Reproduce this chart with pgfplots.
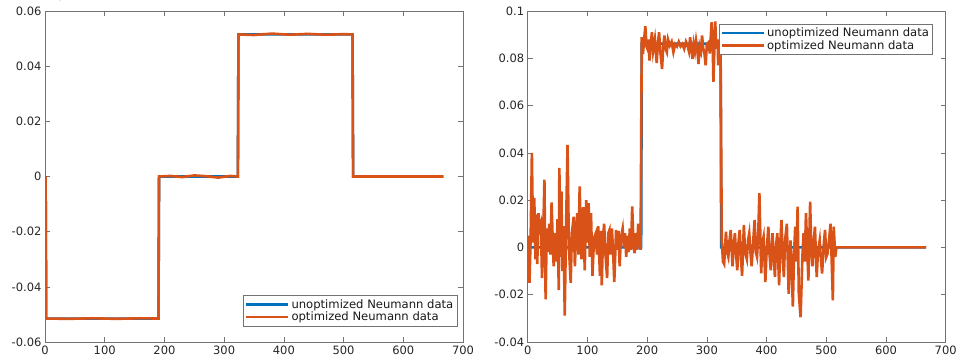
\documentclass[border=0pt]{standalone}
\usepackage{fontspec}
\setmainfont{DejaVu Sans}
\usepackage{pgfplots}
\pgfplotsset{compat=1.18}
\definecolor{mblue}{rgb}{0,0.447,0.741}
\definecolor{morange}{rgb}{0.85,0.325,0.098}

\pgfplotsset{mstyle/.style={
  scale only axis, width=418pt, height=331pt,
  xmin=0, xmax=700, xtick={0,100,...,700},
  xticklabels={0,100,200,300,400,500,600,700},
  tick align=inside, major tick length=5pt,
  axis line style={draw=black!55, line width=0.6pt},
  every tick/.style={black!55, line width=0.6pt},
  tick label style={font=\fontsize{11.5}{13}\selectfont, text=black!85},
  /pgf/number format/assume math mode=true,
  legend style={font=\fontsize{11.6}{12.5}\selectfont, draw=black!55, line width=0.6pt,
    cells={anchor=west}, inner sep=1.5pt, row sep=-1.5pt, text=black!90},
  legend image code/.code={\draw[#1, line width=2.4pt] (-2pt,0pt) -- (40pt,0pt);},
}}

\begin{document}
\begin{tikzpicture}
\useasboundingbox (0,0) rectangle (956pt,360pt);
% ---------------- left panel ----------------
\begin{axis}[mstyle, at={(45pt,18pt)}, anchor=south west,
  ymin=-0.06, ymax=0.06, ytick={-0.06,-0.04,-0.02,0,0.02,0.04,0.06},
  yticklabels={-0.06,-0.04,-0.02,0,0.02,0.04,0.06},
  legend style={at={(0.986,0.048)}, anchor=south east}]
\addplot[mblue, line width=2.6pt] coordinates {
(1,0) (2,-0.0515) (190,-0.0515) (191,0) (323,0) (324,0.0515) (515,0.0515) (516,0) (667,0)};
\addplot[morange, line width=2.6pt] coordinates {
(1,0) (2,-0.0515) (40,-0.0516) (80,-0.0514) (120,-0.0516) (160,-0.0514) (190,-0.0515)
(191,0) (210,0.0002) (230,-0.0002) (250,0.0004) (270,0.0001) (290,-0.0004) (310,0.0002) (323,0)
(324,0.0515) (350,0.0513) (380,0.0518) (410,0.0514) (440,0.0517) (470,0.0514) (500,0.0516) (515,0.0515)
(516,0) (667,0)};
\legend{unoptimized Neumann data, optimized Neumann data}
\end{axis}
% ---------------- right panel ----------------
\begin{axis}[mstyle, at={(527.7pt,18pt)}, anchor=south west,
  ymin=-0.04, ymax=0.1, ytick={-0.04,-0.02,0,0.02,0.04,0.06,0.08,0.1},
  yticklabels={-0.04,-0.02,0,0.02,0.04,0.06,0.08,0.1},
  legend style={at={(0.969,0.961)}, anchor=north east}]
\addplot[mblue, line width=2.6pt] coordinates {
(1,0) (190,0) (191,0.0862) (323,0.0862) (324,0) (667,0)};
\addplot[morange, line width=2.6pt] table {
x y
0 0.005
3 -0.015
5 0.005
7 0.040
9 0.002
11 0.021
13 -0.005
15 0.014
16 -0.007
18 0.0145
20 0.008
22 0.010
24 -0.013
26 0.005
28 0.0287
30 -0.022
32 0.008
34 -0.002
36 0.010
38 -0.003
40 0.019
42 0.002
43.5 -0.008
46 0.006
48 -0.006
50 0.012
52 -0.018
53 0.0336
55 -0.004
56.5 0.0237
58 -0.010
60 0.009
62 -0.0288
64 0.005
66.7 0.0434
69 0.000
72 -0.015
74 0.006
77 0.013
79 -0.008
81 0.006
83 0.0145
85 -0.003
87 0.0258
90 -0.005
93 0.017
95.5 -0.0097
98 0.020
100 0.002
102 0.0187
104 -0.004
106 0.0145
108.5 -0.012
111 0.004
114 0.006
116 -0.003
118 0.009
121 -0.012
122.5 0.007
124 -0.016
126 0.004
128 0.010
130 -0.002
133 -0.013
135 0.006
137 0.0074
139 -0.003
141 0.008
143 -0.002
145 -0.0146
148 0.0074
150 -0.001
152 0.007
154 -0.008
156 0.004
159 0.008
161 0.000
163 0.006
165 -0.004
167 0.005
169 -0.002
171 0.008
173 -0.001
175 0.0173
177 0.002
179 -0.0025
181 0.006
183 -0.001
185 0.010
187 0.002
189 -0.001
191 0.0889
193 0.0818
195 0.088
197 0.0936
199 0.085
200.5 0.084
202 0.088
204 0.079
206 0.086
208 0.091
210 0.083
213 0.088
216 0.078
218 0.086
220 0.091
222 0.083
225 0.0755
227 0.085
229 0.0896
231 0.084
233 0.0826
235 0.088
238 0.0854
241 0.087
244 0.0826
247 0.086
250 0.085
253 0.087
256 0.085
259 0.086
262 0.084
265 0.087
268 0.085
270 0.083
272 0.0889
274 0.084
276 0.0797
278 0.086
280 0.083
282 0.0875
284 0.084
286 0.0776
288 0.085
290 0.083
292 0.0896
294 0.084
296 0.082
298 0.077
300 0.086
303 0.0868
305 0.082
308 0.0953
310 0.083
311 0.070
313 0.087
314 0.0956
316 0.084
318 0.088
319 0.077
321 0.088
322 0.0797
323 0.084
325 0.003
327 -0.006
329 -0.007
332 0.0067
334 -0.002
336 -0.004
338 0.003
340 0.0074
343 -0.008
345 0.001
347 0.006
349 -0.003
351 -0.0097
353 0.002
355 0.0074
357 -0.004
359 -0.012
362 0.0095
364 -0.002
367 -0.005
369 0.003
371 0.006
373 -0.002
375 -0.008
378 0.004
380 0.0116
382 -0.002
384 -0.004
386 0.005
388 0.023
391 -0.011
393 0.002
395 0.0045
398 -0.0146
400 -0.002
403 0.0088
405 -0.003
407 -0.0097
410 0.006
412 -0.004
414 -0.0125
416 0.001
418 0.006
421 -0.016
423 0.002
425 0.0116
427 -0.004
429 -0.0125
431 0.003
434 0.010
437 -0.0196
440 0.003
442 -0.008
444 -0.025
446 -0.003
448 0.0088
450 -0.006
452 0.0173
454 -0.0196
457 -0.0295
460 -0.004
462 0.006
464 -0.006
466 0.0145
470 -0.014
473 0.0194
475 -0.002
477 -0.008
479 0.002
481 0.0088
484 -0.0125
486 -0.002
489 0.003
491 -0.005
493 -0.011
496 0.002
498 0.0074
500 -0.004
502 -0.0026
505 0.004
507 0.010
509 -0.005
511 -0.0224
512.5 0.0088
515 -0.004
517 0
667 0
};
\legend{unoptimized Neumann data, optimized Neumann data}
\end{axis}
\end{tikzpicture}
\end{document}
